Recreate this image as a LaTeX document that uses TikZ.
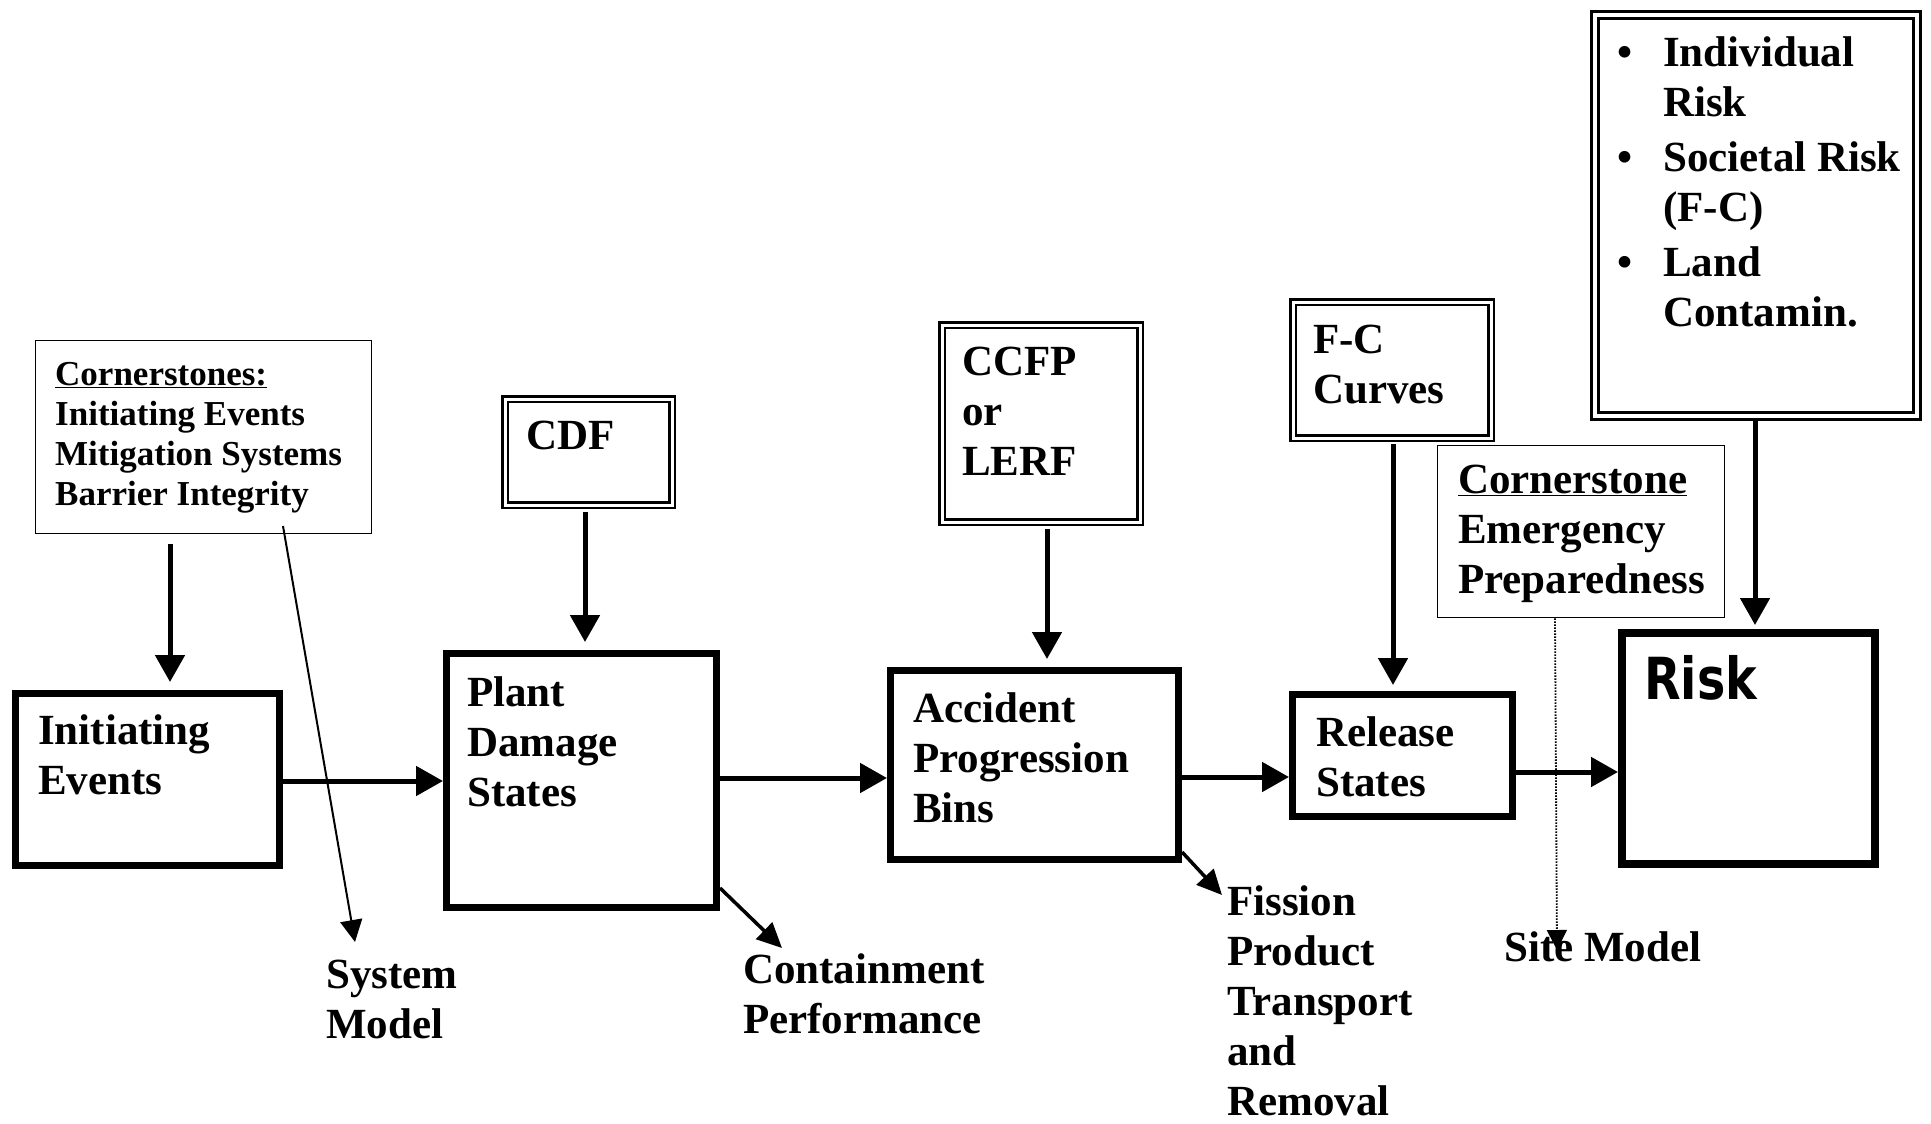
\documentclass[tikz,border=0pt]{standalone}
\usepackage{fontspec}
\setmainfont{Liberation Serif}
\newfontfamily\riskfont{DejaVu Sans}[FakeStretch=0.82]
\usetikzlibrary{arrows.meta,fit}
\newcommand\mainsz{\fontsize{43}{50}\selectfont\bfseries}
\newcommand\smallsz{\fontsize{35}{40}\selectfont\bfseries}
\tikzset{
  thickbox/.style={draw, line width=7pt, inner sep=0pt},
  riskbox/.style={draw, line width=8pt, inner sep=0pt},
  thinbox/.style={draw, line width=1.5pt, inner sep=0pt},
  dblbox/.style={draw, line width=2.8pt, double, double distance=3pt, inner sep=0pt},
  txt/.style={font=\mainsz, align=left, inner sep=0pt, anchor=base west},
  smalltxt/.style={font=\smallsz, align=left, inner sep=0pt, anchor=base west},
  bigarrow/.style={line width=5pt, -{Triangle[length=27pt,width=29pt]}},
  thinarrow/.style={line width=2pt, -{Triangle[length=22pt,width=22pt]}},
  medarrow/.style={line width=3.5pt, -{Triangle[length=25pt,width=23pt]}},
  dotarrow/.style={line width=1.8pt, dash pattern=on 1.5pt off 1.5pt, -{Triangle[length=20pt,width=20pt]}},
}
\begin{document}
\begin{tikzpicture}[x=1pt,y=-1pt]
\useasboundingbox (0,0) rectangle (1931,1124);
% boxes
\node[thinbox, fit={(35.5,340.5) (371.5,533.5)}] (cs) {};
\node[thickbox, fit={(15.5,693.5) (279.5,865.5)}] (ie) {};
\node[thickbox, fit={(446.5,653.5) (716.5,907.5)}] (pds) {};
\node[dblbox, fit={(505,399) (672,505)}] (cdf) {};
\node[thickbox, fit={(890.5,670.5) (1178.5,859.5)}] (apb) {};
\node[dblbox, fit={(942,325) (1140,522)}] (ccfp) {};
\node[thickbox, fit={(1292.5,694.5) (1512.5,816.5)}] (rs) {};
\node[dblbox, fit={(1293,302) (1491,438)}] (fc) {};
\node[riskbox, fit={(1622,633) (1875,864)}] (risk) {};
\node[dblbox, line width=3pt, double distance=3.5pt, fit={(1595,15) (1917,416)}] (meas) {};
\node[thinbox, fit={(1437.5,445.5) (1724.5,617.5)}] (ep) {};
% texts (anchor = baseline of the last line)
\node[smalltxt] (csT) at (55,505) {\underline{Cornerstones:}\\Initiating Events\\Mitigation Systems\\Barrier Integrity};
\node[txt] (ieT) at (38,794) {Initiating\\Events};
\node[txt] (pdsT) at (467,806) {Plant\\Damage\\States};
\node[txt] (cdfT) at (526,449) {CDF};
\node[txt] (apbT) at (913,822) {Accident\\Progression\\Bins};
\node[txt] (ccfpT) at (962,475) {CCFP\\or\\LERF};
\node[txt] (rsT) at (1316,796) {Release\\States};
\node[txt] (fcT) at (1313,403) {F-C\\Curves};
\node[inner sep=0pt, anchor=base west, font=\riskfont\bfseries\fontsize{58}{60}\selectfont] (riskT) at (1644,699) {Risk};
\node[txt] (measT) at (1617,326) {\makebox[46pt][l]{\textbullet}Individual\\\hspace*{46pt}Risk\\[5pt]\makebox[46pt][l]{\textbullet}Societal Risk\\\hspace*{46pt}(F-C)\\[5pt]\makebox[46pt][l]{\textbullet}Land\\\hspace*{46pt}Contamin.};
\node[txt] (epT) at (1458,593) {\underline{Cornerstone}\\Emergency\\Preparedness};
\node[txt] (smT) at (326,1038) {System\\Model};
\node[txt] (cpT) at (743,1033) {Containment\\Performance};
\node[txt] (fpT) at (1227,1115) {Fission\\Product\\Transport\\and\\Removal};
\node[txt] (siteT) at (1504,961) {Site Model};
% helper coordinates
\coordinate (v1) at (170,0);
\coordinate (v2) at (585,0);
\coordinate (v3) at (1047,0);
\coordinate (v4) at (1393,0);
\coordinate (v5) at (1755,0);
\coordinate (h1) at (0,781);
\coordinate (h2) at (0,778);
\coordinate (h3) at (0,777);
\coordinate (h4) at (0,772);
\coordinate (sm1) at (283,526);
\coordinate (sm2) at (355,942);
\coordinate (c1) at (0,888);
\coordinate (c2) at (782,948);
\coordinate (f1) at (0,852);
\coordinate (f2) at (1222,895);
\coordinate (s1) at (1555,0);
\coordinate (s2) at (1557,950);
% vertical arrows
\draw[bigarrow, shorten <=10pt, shorten >=8pt] (cs.south -| v1) -- (ie.north -| v1);
\draw[bigarrow, shorten <=6pt, shorten >=8pt] (cdf.south -| v2) -- (pds.north -| v2);
\draw[bigarrow, shorten <=6pt, shorten >=8pt] (ccfp.south -| v3) -- (apb.north -| v3);
\draw[bigarrow, shorten <=5pt, shorten >=6pt] (fc.south -| v4) -- (rs.north -| v4);
\draw[bigarrow, shorten >=4pt] (meas.south -| v5) -- (risk.north -| v5);
% horizontal arrows
\draw[bigarrow] (ie.east |- h1) -- (pds.west |- h1);
\draw[bigarrow] (pds.east |- h2) -- (apb.west |- h2);
\draw[bigarrow] (apb.east |- h3) -- (rs.west |- h3);
\draw[bigarrow] (rs.east |- h4) -- (risk.west |- h4);
% side arrows
\draw[thinarrow] (sm1) -- (sm2);
\draw[medarrow] (pds.east |- c1) -- (c2);
\draw[medarrow] (apb.east |- f1) -- (f2);
\draw[dotarrow] (ep.south -| s1) -- (s2);
\end{tikzpicture}
\end{document}
